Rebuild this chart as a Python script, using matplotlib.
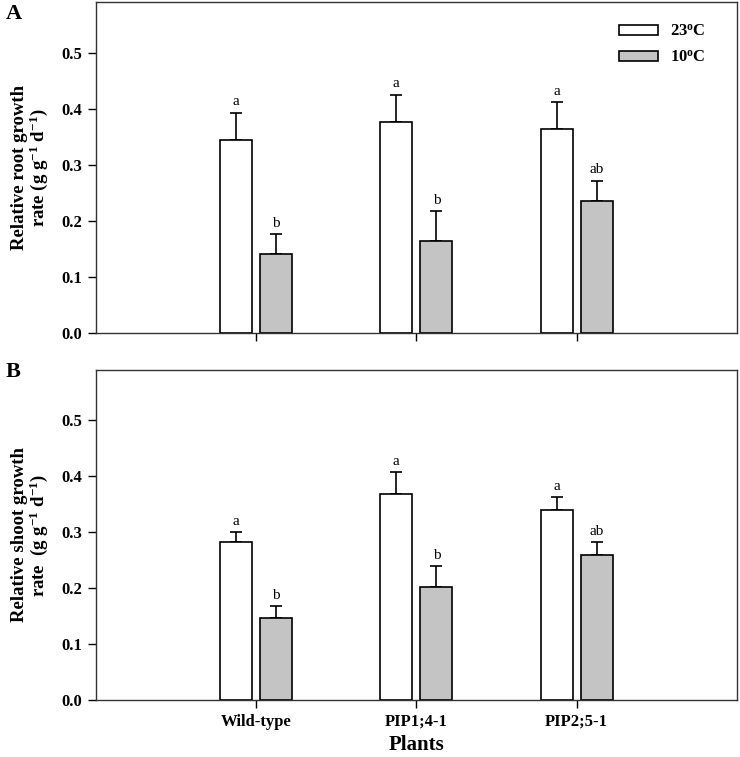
import numpy as np
import matplotlib
matplotlib.use("Agg")
import matplotlib.pyplot as plt

plt.rcParams['font.family'] = ['Liberation Serif', 'DejaVu Serif']
plt.rcParams['mathtext.fontset'] = 'custom'
plt.rcParams['mathtext.rm'] = 'Liberation Serif:bold'
plt.rcParams['mathtext.default'] = 'rm'

plants = ['Wild-type', 'PIP1;4-1', 'PIP2;5-1']
temps = ['23$^{\\mathrm{o}}$C', '10$^{\\mathrm{o}}$C']

root_23 = [0.345, 0.377, 0.364]
root_23_err = [0.048, 0.048, 0.047]
root_10 = [0.141, 0.164, 0.235]
root_10_err = [0.035, 0.053, 0.037]
root_23_sig = ['a', 'a', 'a']
root_10_sig = ['b', 'b', 'ab']

shoot_23 = [0.282, 0.368, 0.340]
shoot_23_err = [0.018, 0.040, 0.023]
shoot_10 = [0.147, 0.202, 0.259]
shoot_10_err = [0.021, 0.038, 0.023]
shoot_23_sig = ['a', 'a', 'a']
shoot_10_sig = ['b', 'b', 'ab']

fig = plt.figure(figsize=(7.4, 7.57), dpi=100)
ax1 = fig.add_axes([0.1297, 0.5597, 0.866, 0.4377])
ax2 = fig.add_axes([0.1297, 0.0753, 0.866, 0.436])

x = np.arange(len(plants))
w = 0.2
off = 0.125


def panel(ax, v23, e23, v10, e10, s23, s10, ylabel, show_xlabels):
    b1 = ax.bar(x - off, v23, w, color='white', edgecolor='black', linewidth=1.2,
                label=temps[0], zorder=2)
    b2 = ax.bar(x + off, v10, w, color='#c4c4c4', edgecolor='black', linewidth=1.2,
                label=temps[1], zorder=2)
    ax.errorbar(x - off, v23, yerr=[np.zeros(3), e23], fmt='none', ecolor='black',
                elinewidth=1.2, capsize=4.5, capthick=1.2, zorder=1)
    ax.errorbar(x + off, v10, yerr=[np.zeros(3), e10], fmt='none', ecolor='black',
                elinewidth=1.2, capsize=4.5, capthick=1.2, zorder=1)
    for i in range(len(x)):
        ax.annotate(s23[i], (x[i] - off, v23[i] + e23[i]), xytext=(0, 3),
                    textcoords='offset points', ha='center', va='bottom', fontsize=11)
        ax.annotate(s10[i], (x[i] + off, v10[i] + e10[i]), xytext=(0, 3),
                    textcoords='offset points', ha='center', va='bottom', fontsize=11)
    ax.set_xlim(-1, 3)
    ax.set_ylim(0, 0.59)
    ax.set_yticks([0, 0.1, 0.2, 0.3, 0.4, 0.5])
    ax.set_yticklabels(['0.0', '0.1', '0.2', '0.3', '0.4', '0.5'], fontweight='bold', fontsize=12)
    ax.set_xticks(x)
    if show_xlabels:
        ax.set_xticklabels(plants, fontweight='bold', fontsize=12)
    else:
        ax.set_xticklabels([])
    ax.tick_params(direction='out', length=6, width=1, pad=4)
    for s in ax.spines.values():
        s.set_linewidth(1)
        s.set_color('#333333')
    ax.set_ylabel(ylabel, fontweight='bold', fontsize=13.5, labelpad=8, linespacing=1.0)
    return b1, b2


panel(ax1, root_23, root_23_err, root_10, root_10_err, root_23_sig, root_10_sig,
      'Relative root growth\nrate (g g$^{-1}$ d$^{-1}$)', False)
panel(ax2, shoot_23, shoot_23_err, shoot_10, shoot_10_err, shoot_23_sig, shoot_10_sig,
      'Relative shoot growth\nrate  (g g$^{-1}$ d$^{-1}$)', True)

fig.text(6 / 740, 1 - 4 / 757, 'A', fontsize=16, fontweight='bold', va='top', ha='left')
fig.text(6 / 740, 1 - 362 / 757, 'B', fontsize=16, fontweight='bold', va='top', ha='left')

ax1.legend(loc='upper right', bbox_to_anchor=(0.975, 0.98), frameon=False,
           prop={'weight': 'bold', 'size': 12}, handlelength=2.35, handleheight=0.55,
           labelspacing=0.6, handletextpad=0.75)

ax2.set_xlabel('Plants', fontweight='bold', fontsize=15, labelpad=4)

fig.savefig('out.png', dpi=100)
